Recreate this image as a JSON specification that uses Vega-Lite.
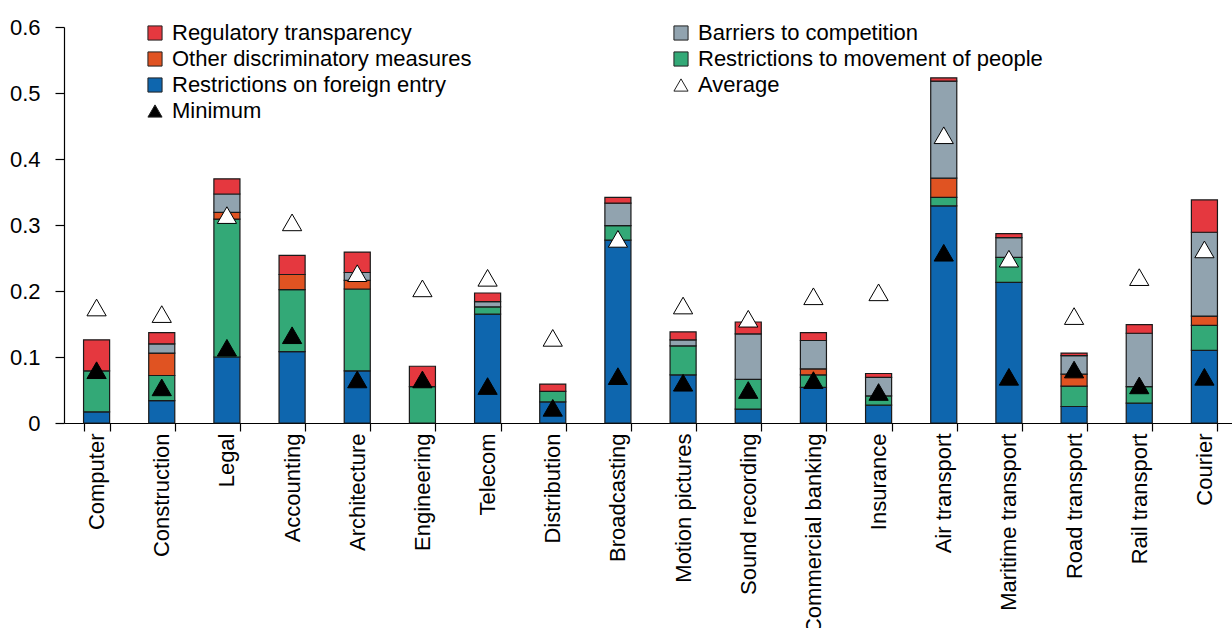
{
  "$schema": "https://vega.github.io/schema/vega-lite/v6.json",
  "autosize": {"type": "none"},
  "padding": {"left": 64, "top": 27, "right": 0, "bottom": 205},
  "width": 1173,
  "height": 396,
  "background": "white",
  "config": {
    "font": "Liberation Sans",
    "view": {"stroke": null},
    "axis": {"grid": false, "domainColor": "#000", "tickColor": "#000", "labelColor": "#000", "domainWidth": 1.2, "tickWidth": 1.2},
    "legend": {
      "labelFont": "Liberation Sans",
      "labelFontSize": 22,
      "labelColor": "#000",
      "labelLimit": 0,
      "labelOffset": 6,
      "symbolSize": 200,
      "symbolStrokeColor": "#222",
      "symbolStrokeWidth": 1,
      "symbolOpacity": 1,
      "rowPadding": 4,
      "padding": 0
    }
  },
  "datasets": {
    "components": [
      {"sector": "Computer", "series": "Restrictions on foreign entry", "value": 0.017},
      {"sector": "Computer", "series": "Restrictions to movement of people", "value": 0.062},
      {"sector": "Computer", "series": "Regulatory transparency", "value": 0.047},
      {"sector": "Construction", "series": "Restrictions on foreign entry", "value": 0.034},
      {"sector": "Construction", "series": "Restrictions to movement of people", "value": 0.038},
      {"sector": "Construction", "series": "Other discriminatory measures", "value": 0.034},
      {"sector": "Construction", "series": "Barriers to competition", "value": 0.014},
      {"sector": "Construction", "series": "Regulatory transparency", "value": 0.017},
      {"sector": "Legal", "series": "Restrictions on foreign entry", "value": 0.100},
      {"sector": "Legal", "series": "Restrictions to movement of people", "value": 0.209},
      {"sector": "Legal", "series": "Other discriminatory measures", "value": 0.010},
      {"sector": "Legal", "series": "Barriers to competition", "value": 0.028},
      {"sector": "Legal", "series": "Regulatory transparency", "value": 0.023},
      {"sector": "Accounting", "series": "Restrictions on foreign entry", "value": 0.108},
      {"sector": "Accounting", "series": "Restrictions to movement of people", "value": 0.094},
      {"sector": "Accounting", "series": "Other discriminatory measures", "value": 0.023},
      {"sector": "Accounting", "series": "Regulatory transparency", "value": 0.029},
      {"sector": "Architecture", "series": "Restrictions on foreign entry", "value": 0.079},
      {"sector": "Architecture", "series": "Restrictions to movement of people", "value": 0.124},
      {"sector": "Architecture", "series": "Other discriminatory measures", "value": 0.013},
      {"sector": "Architecture", "series": "Barriers to competition", "value": 0.012},
      {"sector": "Architecture", "series": "Regulatory transparency", "value": 0.031},
      {"sector": "Engineering", "series": "Restrictions to movement of people", "value": 0.055},
      {"sector": "Engineering", "series": "Regulatory transparency", "value": 0.031},
      {"sector": "Telecom", "series": "Restrictions on foreign entry", "value": 0.165},
      {"sector": "Telecom", "series": "Restrictions to movement of people", "value": 0.011},
      {"sector": "Telecom", "series": "Barriers to competition", "value": 0.008},
      {"sector": "Telecom", "series": "Regulatory transparency", "value": 0.013},
      {"sector": "Distribution", "series": "Restrictions on foreign entry", "value": 0.032},
      {"sector": "Distribution", "series": "Restrictions to movement of people", "value": 0.016},
      {"sector": "Distribution", "series": "Regulatory transparency", "value": 0.011},
      {"sector": "Broadcasting", "series": "Restrictions on foreign entry", "value": 0.277},
      {"sector": "Broadcasting", "series": "Restrictions to movement of people", "value": 0.022},
      {"sector": "Broadcasting", "series": "Barriers to competition", "value": 0.034},
      {"sector": "Broadcasting", "series": "Regulatory transparency", "value": 0.009},
      {"sector": "Motion pictures", "series": "Restrictions on foreign entry", "value": 0.073},
      {"sector": "Motion pictures", "series": "Restrictions to movement of people", "value": 0.044},
      {"sector": "Motion pictures", "series": "Barriers to competition", "value": 0.009},
      {"sector": "Motion pictures", "series": "Regulatory transparency", "value": 0.012},
      {"sector": "Sound recording", "series": "Restrictions on foreign entry", "value": 0.021},
      {"sector": "Sound recording", "series": "Restrictions to movement of people", "value": 0.045},
      {"sector": "Sound recording", "series": "Barriers to competition", "value": 0.069},
      {"sector": "Sound recording", "series": "Regulatory transparency", "value": 0.018},
      {"sector": "Commercial banking", "series": "Restrictions on foreign entry", "value": 0.054},
      {"sector": "Commercial banking", "series": "Restrictions to movement of people", "value": 0.019},
      {"sector": "Commercial banking", "series": "Other discriminatory measures", "value": 0.009},
      {"sector": "Commercial banking", "series": "Barriers to competition", "value": 0.043},
      {"sector": "Commercial banking", "series": "Regulatory transparency", "value": 0.012},
      {"sector": "Insurance", "series": "Restrictions on foreign entry", "value": 0.027},
      {"sector": "Insurance", "series": "Restrictions to movement of people", "value": 0.014},
      {"sector": "Insurance", "series": "Barriers to competition", "value": 0.028},
      {"sector": "Insurance", "series": "Regulatory transparency", "value": 0.006},
      {"sector": "Air transport", "series": "Restrictions on foreign entry", "value": 0.329},
      {"sector": "Air transport", "series": "Restrictions to movement of people", "value": 0.013},
      {"sector": "Air transport", "series": "Other discriminatory measures", "value": 0.029},
      {"sector": "Air transport", "series": "Barriers to competition", "value": 0.147},
      {"sector": "Air transport", "series": "Regulatory transparency", "value": 0.005},
      {"sector": "Maritime transport", "series": "Restrictions on foreign entry", "value": 0.213},
      {"sector": "Maritime transport", "series": "Restrictions to movement of people", "value": 0.038},
      {"sector": "Maritime transport", "series": "Barriers to competition", "value": 0.030},
      {"sector": "Maritime transport", "series": "Regulatory transparency", "value": 0.006},
      {"sector": "Road transport", "series": "Restrictions on foreign entry", "value": 0.025},
      {"sector": "Road transport", "series": "Restrictions to movement of people", "value": 0.031},
      {"sector": "Road transport", "series": "Other discriminatory measures", "value": 0.018},
      {"sector": "Road transport", "series": "Barriers to competition", "value": 0.028},
      {"sector": "Road transport", "series": "Regulatory transparency", "value": 0.004},
      {"sector": "Rail transport", "series": "Restrictions on foreign entry", "value": 0.030},
      {"sector": "Rail transport", "series": "Restrictions to movement of people", "value": 0.025},
      {"sector": "Rail transport", "series": "Barriers to competition", "value": 0.081},
      {"sector": "Rail transport", "series": "Regulatory transparency", "value": 0.013},
      {"sector": "Courier", "series": "Restrictions on foreign entry", "value": 0.110},
      {"sector": "Courier", "series": "Restrictions to movement of people", "value": 0.038},
      {"sector": "Courier", "series": "Other discriminatory measures", "value": 0.014},
      {"sector": "Courier", "series": "Barriers to competition", "value": 0.127},
      {"sector": "Courier", "series": "Regulatory transparency", "value": 0.049}
    ],
    "markers": [
      {"sector": "Computer", "series": "Average", "value": 0.175},
      {"sector": "Computer", "series": "Minimum", "value": 0.080},
      {"sector": "Construction", "series": "Average", "value": 0.165},
      {"sector": "Construction", "series": "Minimum", "value": 0.054},
      {"sector": "Legal", "series": "Average", "value": 0.315},
      {"sector": "Legal", "series": "Minimum", "value": 0.114},
      {"sector": "Accounting", "series": "Average", "value": 0.304},
      {"sector": "Accounting", "series": "Minimum", "value": 0.133},
      {"sector": "Architecture", "series": "Average", "value": 0.227},
      {"sector": "Architecture", "series": "Minimum", "value": 0.066},
      {"sector": "Engineering", "series": "Average", "value": 0.204},
      {"sector": "Engineering", "series": "Minimum", "value": 0.066},
      {"sector": "Telecom", "series": "Average", "value": 0.220},
      {"sector": "Telecom", "series": "Minimum", "value": 0.056},
      {"sector": "Distribution", "series": "Average", "value": 0.129},
      {"sector": "Distribution", "series": "Minimum", "value": 0.023},
      {"sector": "Broadcasting", "series": "Average", "value": 0.279},
      {"sector": "Broadcasting", "series": "Minimum", "value": 0.071},
      {"sector": "Motion pictures", "series": "Average", "value": 0.178},
      {"sector": "Motion pictures", "series": "Minimum", "value": 0.061},
      {"sector": "Sound recording", "series": "Average", "value": 0.158},
      {"sector": "Sound recording", "series": "Minimum", "value": 0.050},
      {"sector": "Commercial banking", "series": "Average", "value": 0.192},
      {"sector": "Commercial banking", "series": "Minimum", "value": 0.065},
      {"sector": "Insurance", "series": "Average", "value": 0.198},
      {"sector": "Insurance", "series": "Minimum", "value": 0.047},
      {"sector": "Air transport", "series": "Average", "value": 0.436},
      {"sector": "Air transport", "series": "Minimum", "value": 0.258},
      {"sector": "Maritime transport", "series": "Average", "value": 0.249},
      {"sector": "Maritime transport", "series": "Minimum", "value": 0.070},
      {"sector": "Road transport", "series": "Average", "value": 0.162},
      {"sector": "Road transport", "series": "Minimum", "value": 0.081},
      {"sector": "Rail transport", "series": "Average", "value": 0.221},
      {"sector": "Rail transport", "series": "Minimum", "value": 0.057},
      {"sector": "Courier", "series": "Average", "value": 0.263},
      {"sector": "Courier", "series": "Minimum", "value": 0.070}
    ]
  },
  "encoding": {
    "x": {
      "field": "sector",
      "type": "nominal",
      "sort": ["Computer", "Construction", "Legal", "Accounting", "Architecture", "Engineering", "Telecom", "Distribution", "Broadcasting", "Motion pictures", "Sound recording", "Commercial banking", "Insurance", "Air transport", "Maritime transport", "Road transport", "Rail transport", "Courier"],
      "scale": {"paddingInner": 0.6, "paddingOuter": 0.3},
      "axis": {
        "title": null,
        "labelAngle": -90,
        "labelAlign": "right",
        "labelBaseline": "middle",
        "labelFontSize": 22,
        "labelPadding": 2,
        "tickSize": 8,
        "tickBand": "extent",
        "labelLimit": 0
      }
    },
    "y": {
      "field": "value",
      "type": "quantitative",
      "scale": {"domain": [0, 0.6], "nice": false},
      "axis": {
        "title": null,
        "values": [0, 0.1, 0.2, 0.3, 0.4, 0.5, 0.6],
        "format": ".1~f",
        "labelFontSize": 22,
        "labelPadding": 15,
        "tickSize": 9
      }
    }
  },
  "layer": [
    {
      "data": {"name": "components"},
      "transform": [
        {"calculate": "indexof(['Restrictions on foreign entry', 'Restrictions to movement of people', 'Other discriminatory measures', 'Barriers to competition', 'Regulatory transparency'], datum.series)", "as": "stackRank"}
      ],
      "mark": {"type": "bar", "stroke": "#1a1a1a", "strokeWidth": 1.2},
      "encoding": {
        "y": {"field": "value", "type": "quantitative", "stack": "zero"},
        "order": {"field": "stackRank", "type": "quantitative"},
        "color": {
          "field": "series",
          "type": "nominal",
          "scale": {
            "domain": ["Regulatory transparency", "Barriers to competition", "Other discriminatory measures", "Restrictions to movement of people", "Restrictions on foreign entry", "Average", "Minimum"],
            "range": ["#E5383F", "#91A3AF", "#E05322", "#33A977", "#0E66AE", "#ffffff", "#000000"]
          },
          "legend": {
            "title": null,
            "orient": "none",
            "legendX": 80,
            "legendY": -5,
            "columns": 2,
            "columnPadding": 198,
            "values": ["Regulatory transparency", "Other discriminatory measures", "Restrictions on foreign entry", "Minimum", "Barriers to competition", "Restrictions to movement of people", "Average"],
            "encode": {"symbols": {"update": {"stroke": {"value": "#222"}, "strokeWidth": {"value": 1}}}}
          }
        }
      }
    },
    {
      "data": {"name": "markers"},
      "mark": {"type": "point", "filled": true, "stroke": "#000", "strokeWidth": 1, "size": 370, "opacity": 1},
      "encoding": {
        "color": {
          "field": "series",
          "type": "nominal",
          "scale": {
            "domain": ["Regulatory transparency", "Barriers to competition", "Other discriminatory measures", "Restrictions to movement of people", "Restrictions on foreign entry", "Average", "Minimum"],
            "range": ["#E5383F", "#91A3AF", "#E05322", "#33A977", "#0E66AE", "#ffffff", "#000000"]
          },
          "legend": {
            "title": null,
            "orient": "none",
            "legendX": 80,
            "legendY": -5,
            "columns": 2,
            "columnPadding": 198,
            "values": ["Regulatory transparency", "Other discriminatory measures", "Restrictions on foreign entry", "Minimum", "Barriers to competition", "Restrictions to movement of people", "Average"],
            "encode": {"symbols": {"update": {"stroke": {"value": "#222"}, "strokeWidth": {"value": 1}}}}
          }
        },
        "shape": {
          "field": "series",
          "type": "nominal",
          "scale": {
            "domain": ["Regulatory transparency", "Barriers to competition", "Other discriminatory measures", "Restrictions to movement of people", "Restrictions on foreign entry", "Average", "Minimum"],
            "range": ["square", "square", "square", "square", "square", "triangle-up", "triangle-up"]
          },
          "legend": {
            "title": null,
            "orient": "none",
            "legendX": 80,
            "legendY": -5,
            "columns": 2,
            "columnPadding": 198,
            "values": ["Regulatory transparency", "Other discriminatory measures", "Restrictions on foreign entry", "Minimum", "Barriers to competition", "Restrictions to movement of people", "Average"],
            "encode": {"symbols": {"update": {"stroke": {"value": "#222"}, "strokeWidth": {"value": 1}}}}
          }
        }
      }
    }
  ]
}
